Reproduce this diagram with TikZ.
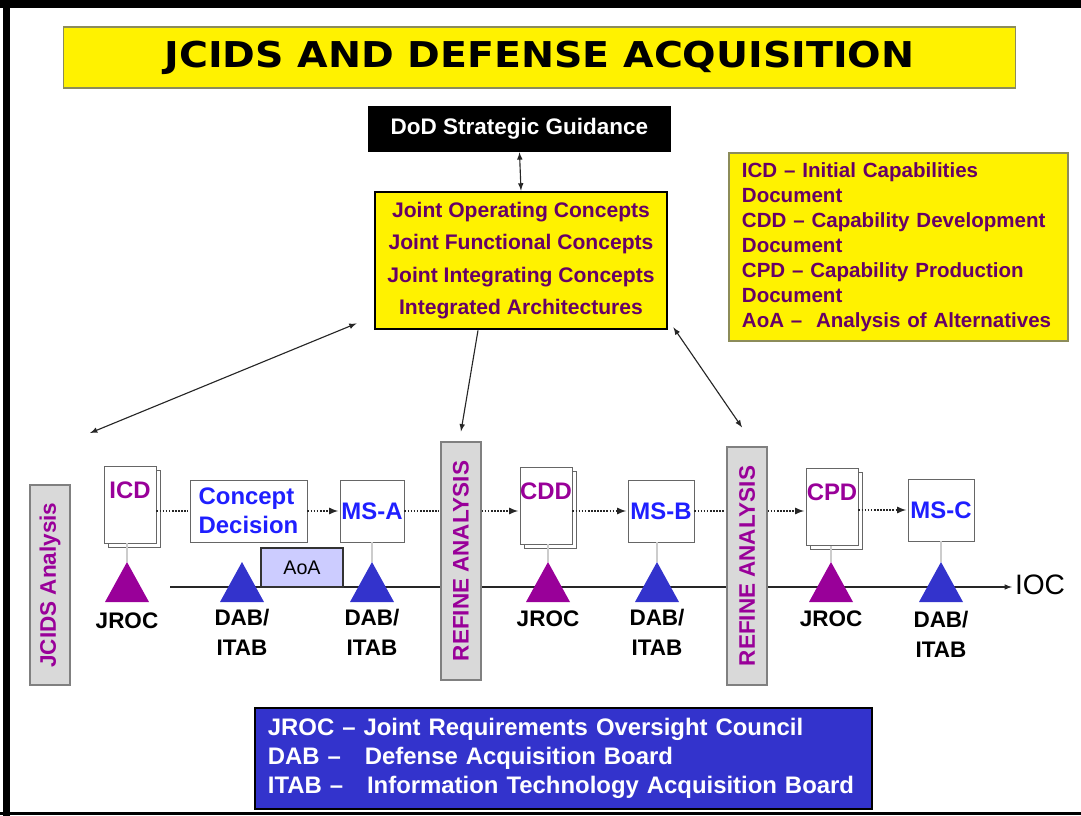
\documentclass[tikz,border=0pt]{standalone}
\usepackage{fontspec}
\setmainfont{Liberation Sans}
\newfontfamily\titlefont{DejaVu Sans}
\usetikzlibrary{shadows}
\definecolor{pu1}{HTML}{990099}
\definecolor{pu2}{HTML}{660066}
\definecolor{bl1}{HTML}{3333CC}
\definecolor{bl2}{HTML}{1F1FFF}
\definecolor{gr1}{HTML}{D9D9D9}
\definecolor{ol1}{HTML}{8C8C5A}
\definecolor{lv1}{HTML}{CCCCFF}
\newcommand{\fs}[2]{\fontsize{#1}{#2}\selectfont}
\tikzset{
    TB/.style ={rectangle, fill=yellow, draw=ol1, line width=0.8pt, minimum width=23.775cm, minimum height=1.525cm, inner sep=0},
    BB/.style ={rectangle, fill=black, text=white, minimum width=7.575cm, minimum height=1.15cm, font=\bfseries\fs{16}{19}},
    YB1/.style ={rectangle, fill=yellow, draw, line width=2pt, minimum width=7.3cm, minimum height=3.425cm, text=pu2, align=center, font=\bfseries\fs{15}{23}},
    YB2/.style ={rectangle, fill=yellow, draw=ol1, line width=0.8pt, text width=7.825cm, inner xsep=0.325cm, minimum height=4.7cm, text=pu2, align=left, font=\bfseries\fs{14.6}{17.8}},
    BL/.style ={rectangle, fill=bl1, draw, line width=2pt, text width=14.775cm, inner xsep=0.325cm, minimum height=2.525cm, text=white, align=left, font=\bfseries\fs{17}{20.6}},
    GB/.style ={rectangle, fill=gr1, draw=gray, line width=0.8pt, rotate=90, minimum height=1cm, text=pu1, font=\bfseries\fs{16}{19}},
    DOC/.style ={rectangle, fill=white, draw=gray!80!black, line width=0.6pt, copy shadow={shadow xshift=0.1cm, shadow yshift=-0.1cm}, minimum width=1.3cm, inner sep=0, text height=0.81cm, text depth=1.115cm, text=pu1, font=\bfseries\fs{17}{20}},
    MS/.style ={rectangle, fill=white, draw=gray!80!black, line width=0.6pt, minimum height=1.55cm, inner sep=1pt, text=bl2, align=left, font=\bfseries\fs{17}{20.6}},
    AA/.style ={rectangle, fill=lv1, draw=black!80, line width=1pt, minimum width=2.05cm, minimum height=0.975cm, font=\fs{14}{16}},
    LB/.style ={align=center, font=\bfseries\fs{16}{21.3}},
    TR1/.style ={fill=pu1},
    TR2/.style ={fill=bl1},
    AR/.style ={line width=0.8pt, black!85, >=latex},
    DA/.style ={densely dotted, line width=1.2pt, black!85, >=latex, shorten >=1pt},
    VL/.style ={line width=0.8pt, gray!40}}

\begin{document}
\begin{tikzpicture}[x=0.025cm,y=-0.025cm]
        \useasboundingbox (0,0) rectangle (1081,816);
        % frame
        \fill[black] (0,0) rectangle (1081,8);
        \fill[black] (3,0) rectangle (10,816);
        \fill[black] (0,812) rectangle (1081,815);
        % top part
        \node[TB] (1) at(539.5,57.5){\titlefont\bfseries\resizebox{18.75cm}{0.66cm}{JCIDS AND DEFENSE ACQUISITION}};
        \node[BB] (2) at(519.5,129){DoD Strategic Guidance};
        \node[YB1] (3) at(521,260.5){Joint Operating Concepts\\Joint Functional Concepts\\Joint Integrating Concepts\\Integrated Architectures};
        \node[YB2] (4) at(898.5,247){ICD -- Initial Capabilities\\Document\\CDD -- Capability Development\\Document\\CPD -- Capability Production\\Document\\AoA --\ \ Analysis of Alternatives};
        % time line
        \node[font=\fs{20}{24}, inner sep=2pt] (17) at(1040,585){IOC};
        \coordinate (t0) at(170,587);
        \draw[AR,->] (t0) -- (t0 -| 17.west);
        % boxes on the line
        \node[GB, minimum width=5cm] (5) at(50,585){JCIDS Analysis};
        \node[DOC] (6) at(130,504.5){ICD};
        \node[MS, minimum width=2.925cm] (7) at(248.5,511){Concept\\Decision};
        \node[MS, minimum width=1.6cm] (8) at(372,511){MS-A};
        \node[AA] (9) at(302,567.5){AoA};
        \node[GB, minimum width=5.95cm] (10) at(461,561){REFINE ANALYSIS};
        \node[DOC] (11) at(546,505.5){CDD};
        \node[MS, minimum width=1.65cm] (12) at(661,511){MS-B};
        \node[GB, minimum width=5.95cm] (13) at(747,566){REFINE ANALYSIS};
        \node[DOC] (14) at(832,507){CPD};
        \node[MS, minimum width=1.65cm] (15) at(941,510){MS-C};
        \node[BL] (16) at(563.5,758.5){JROC -- Joint Requirements Oversight Council\\DAB --\ \ \ Defense Acquisition Board\\ITAB --\ \ \ Information Technology Acquisition Board};
        % arrows from the concepts
        \coordinate (c2) at(90,433);
        \draw[AR,<->] (2.south) -- (3.north);
        \draw[AR,<->] ([xshift=-0.425cm,yshift=0.175cm]3.south west) -- (c2);
        \draw[AR,->] ([xshift=-1.075cm]3.south) -- ([yshift=0.25cm]10.east);
        \draw[AR,<->] ([xshift=0.125cm,yshift=0.075cm]3.south east) -- ([xshift=-0.125cm,yshift=0.475cm]13.east);
        % dotted flow
        \draw[DA] (7.west -| 6.east) -- (7.west);
        \draw[DA,->] (7) -- (8);
        \draw[DA] (8.east) -- (8.east -| 10.north);
        \draw[DA,->] (8.east -| 10.south) -- (8.east -| 11.west);
        \draw[DA,->] (12.west -| 11.east) -- (12.west);
        \draw[DA] (12.east) -- (12.east -| 13.north);
        \draw[DA,->] (12.east -| 13.south) -- (12.east -| 14.west);
        \draw[DA,->] (15.west -| 14.east) -- (15.west);
        % reviews
        \coordinate (a1) at(127,562);
        \coordinate (a2) at(242,562);
        \coordinate (a3) at(372,562);
        \coordinate (a4) at(548,562);
        \coordinate (a5) at(657,562);
        \coordinate (a6) at(831,562);
        \coordinate (a7) at(941,562);
        \draw[VL] (6.south -| a1) -- (a1);
        \draw[VL] (8.south -| a3) -- (a3);
        \draw[VL] (11.south -| a4) -- (a4);
        \draw[VL] (12.south -| a5) -- (a5);
        \draw[VL] (14.south -| a6) -- (a6);
        \draw[VL] (15.south -| a7) -- (a7);
        \fill[TR1] (a1) -- ++(-22,40) -- ++(44,0) -- cycle;
        \fill[TR2] (a2) -- ++(-22,40) -- ++(44,0) -- cycle;
        \fill[TR2] (a3) -- ++(-22,40) -- ++(44,0) -- cycle;
        \fill[TR1] (a4) -- ++(-22,40) -- ++(44,0) -- cycle;
        \fill[TR2] (a5) -- ++(-22,40) -- ++(44,0) -- cycle;
        \fill[TR1] (a6) -- ++(-22,40) -- ++(44,0) -- cycle;
        \fill[TR2] (a7) -- ++(-22,40) -- ++(44,0) -- cycle;
        \node[LB] (18) at(127,621){JROC};
        \node[LB] (19) at(242,632){DAB/\\ITAB};
        \node[LB] (20) at(372,632){DAB/\\ITAB};
        \node[LB] (21) at(548,619){JROC};
        \node[LB] (22) at(657,632){DAB/\\ITAB};
        \node[LB] (23) at(831,619){JROC};
        \node[LB] (24) at(941,634){DAB/\\ITAB};
    \end{tikzpicture}
\end{document}
